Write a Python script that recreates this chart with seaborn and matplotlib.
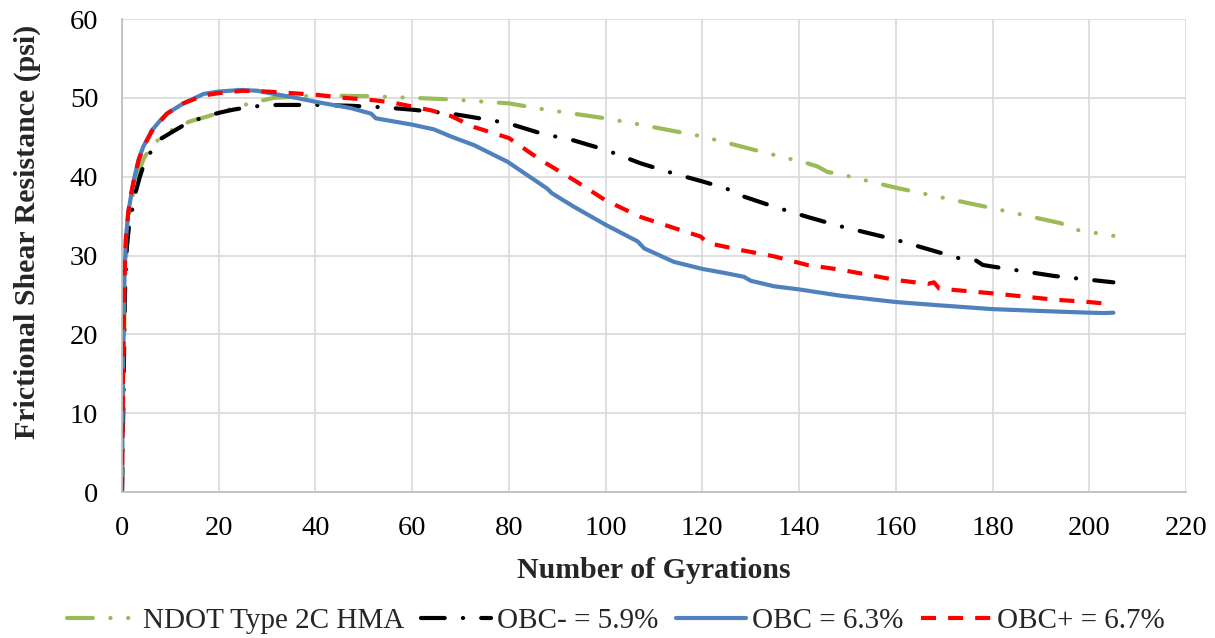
import numpy as np
import pandas as pd
import matplotlib
matplotlib.use("Agg")
import matplotlib.pyplot as plt
import seaborn as sns
from matplotlib.lines import Line2D

# Frictional shear resistance vs. number of gyrations for each mix
ndot_gyr = [0, 0.3, 0.6, 1, 1.5, 2, 2.8, 3.7, 4.5, 5.8, 8, 11, 14, 18, 22, 27, 31.4, 40,
            52, 60, 68, 80, 86.6, 100, 107.2, 120, 132, 141.7, 143.8, 145.9, 148.6, 160,
            180, 194.1, 196.9, 205]
ndot_fsr = [0, 14, 26, 32, 35, 37, 39, 41, 42.3, 43.6, 45, 46.2, 47, 47.7, 48.5, 49.4, 50.0, 50.3,
            50.2, 50.0, 49.8, 49.3, 48.6, 47.4, 46.6, 45.1, 43.2, 41.7, 41.3, 40.6, 40.3, 38.6,
            36.0, 34.1, 33.3, 32.5]

obcm_gyr = [0, 0.3, 0.6, 1, 1.5, 2, 2.8, 3.7, 4.5, 5.8, 8, 11, 13.5, 16.2, 20, 23, 27, 32, 40,
            47, 54, 60, 68, 72, 79.7, 86.6, 93.4, 100, 107.2, 114.1, 120, 125, 127, 134.8,
            141.7, 148.6, 160, 173.4, 176.5, 178, 180, 192.8, 205]
obcm_fsr = [0, 12, 25, 31, 34, 35.5, 38, 40, 41.5, 43, 44.8, 45.9, 46.8, 47.4, 48.1, 48.5, 48.9,
            49.1, 49.1, 49.0, 48.8, 48.5, 48.0, 47.6, 46.8, 45.5, 44.6, 43.4, 41.7, 40.4, 39.4,
            38.5, 37.8, 36.2, 34.9, 33.7, 32.0, 29.6, 29.4, 28.8, 28.6, 27.4, 26.6]

obc_gyr = [0, 0.2, 0.5, 0.8, 1.3, 2, 2.6, 3.5, 4.4, 6.2, 8, 9.3, 12.7, 16.9, 20, 24.5, 28,
           31.4, 36, 40, 47.3, 51.5, 52.5, 60, 64.5, 68, 72.8, 79.7, 87.9, 88.9, 93.4, 100,
           106.6, 108, 114.1, 120, 124.5, 128.6, 130, 134.8, 140, 148.6, 160, 168.6, 180,
           192.8, 200, 203, 205]
obc_fsr = [0, 15, 27, 32, 35.5, 38, 40, 42.3, 43.8, 45.9, 47.2, 48, 49.3, 50.5, 50.8, 51.0, 50.9,
           50.5, 50.0, 49.5, 48.7, 48.0, 47.4, 46.6, 46.0, 45.1, 44.0, 41.9, 38.5, 37.9, 36.2,
           33.9, 31.8, 30.9, 29.2, 28.3, 27.8, 27.3, 26.8, 26.1, 25.7, 24.9, 24.1, 23.7, 23.2,
           22.9, 22.75, 22.7, 22.75]

obcp_gyr = [0, 0.2, 0.5, 0.8, 1.3, 2, 2.6, 3.5, 4.4, 6.2, 9.3, 12.7, 16.9, 20, 25, 30, 35, 40,
            46, 52, 56, 60, 64, 68, 72.8, 80, 86.6, 93.4, 100, 107.2, 114.1, 119.7, 121, 127.9,
            134.8, 141.7, 148.6, 160, 166.6, 167.9, 169, 180, 192.8, 200, 205]
obcp_fsr = [0, 14, 27, 32, 35.5, 38.2, 40, 42.2, 43.7, 45.8, 48, 49.3, 50.3, 50.6, 50.9, 50.8,
            50.6, 50.4, 50.0, 49.7, 49.4, 48.9, 48.4, 47.7, 46.3, 44.9, 42.1, 39.6, 37.0, 34.9,
            33.5, 32.4, 31.6, 30.7, 29.9, 28.8, 28.2, 26.9, 26.4, 26.6, 25.8, 25.2, 24.4, 24.1,
            23.8]

series_names = ["NDOT Type 2C HMA", "OBC- = 5.9%", "OBC = 6.3%", "OBC+ = 6.7%"]
x_ticks = list(range(0, 221, 20))
y_ticks = list(range(0, 61, 10))

frames = []
for name, gx, fy in zip(series_names,
                        [ndot_gyr, obcm_gyr, obc_gyr, obcp_gyr],
                        [ndot_fsr, obcm_fsr, obc_fsr, obcp_fsr]):
    frames.append(pd.DataFrame({"Gyrations": gx, "FSR": fy, "Mix": name}))
df = pd.concat(frames, ignore_index=True)

sns.set_theme(style="white")
plt.rcParams["font.family"] = ["Liberation Serif", "DejaVu Serif"]

LW = 3.0
styles = {
    "NDOT Type 2C HMA": dict(color="#9BBB59", linestyle=(0, (6.2, 4.2, 0.05, 4.2, 0.05, 4.2)),
                             dash_capstyle="round"),
    "OBC- = 5.9%": dict(color="#000000", linestyle=(0, (5.7, 4.35, 0.05, 4.35)),
                        dash_capstyle="round"),
    "OBC = 6.3%": dict(color="#4F81BD", linestyle="-", solid_capstyle="round"),
    "OBC+ = 6.7%": dict(color="#FF0000", linestyle=(0, (3.6, 2.9)), dash_capstyle="butt"),
}

fig = plt.figure(figsize=(12.15, 6.38), dpi=100)
ax = fig.add_axes([0.1004, 0.2288, 0.8757, 0.7414])

handles = []
for name in series_names:
    sub = df[df["Mix"] == name]
    sns.lineplot(data=sub, x="Gyrations", y="FSR", ax=ax, sort=False, estimator=None,
                 lw=LW, legend=False, **styles[name])
    ln = ax.lines[-1]
    ln.set_solid_joinstyle("round")
    handles.append(Line2D([], [], lw=LW, label=name, **styles[name]))

ax.set_xlim(0, 220)
ax.set_ylim(0, 60)
ax.set_xticks(x_ticks)
ax.set_yticks(y_ticks)
ax.grid(True, color="#D9D9D9", lw=1.2)
ax.set_axisbelow(True)
for side in ["top", "right"]:
    ax.spines[side].set_visible(False)
for side in ["left", "bottom"]:
    ax.spines[side].set_color("#BFBFBF")
    ax.spines[side].set_linewidth(1.3)
ax.tick_params(axis="both", length=0, labelsize=20.5, colors="black")
ax.tick_params(axis="y", pad=17)
ax.tick_params(axis="x", pad=17)

ax.set_xlabel("Number of Gyrations", fontsize=21.5, fontweight="bold", labelpad=12)
ax.set_ylabel("Frictional Shear Resistance (psi)", fontsize=21.5, fontweight="bold",
              va="center")
ax.yaxis.set_label_coords(-0.0893, 0.55)

fig.legend(handles=handles, loc="center", bbox_to_anchor=(0.5066, 1 - 621 / 638), ncol=4,
           frameon=False, fontsize=21, handlelength=2.4, handletextpad=0.2,
           columnspacing=0.6)

fig.savefig("out.png", dpi=100, facecolor="white")
